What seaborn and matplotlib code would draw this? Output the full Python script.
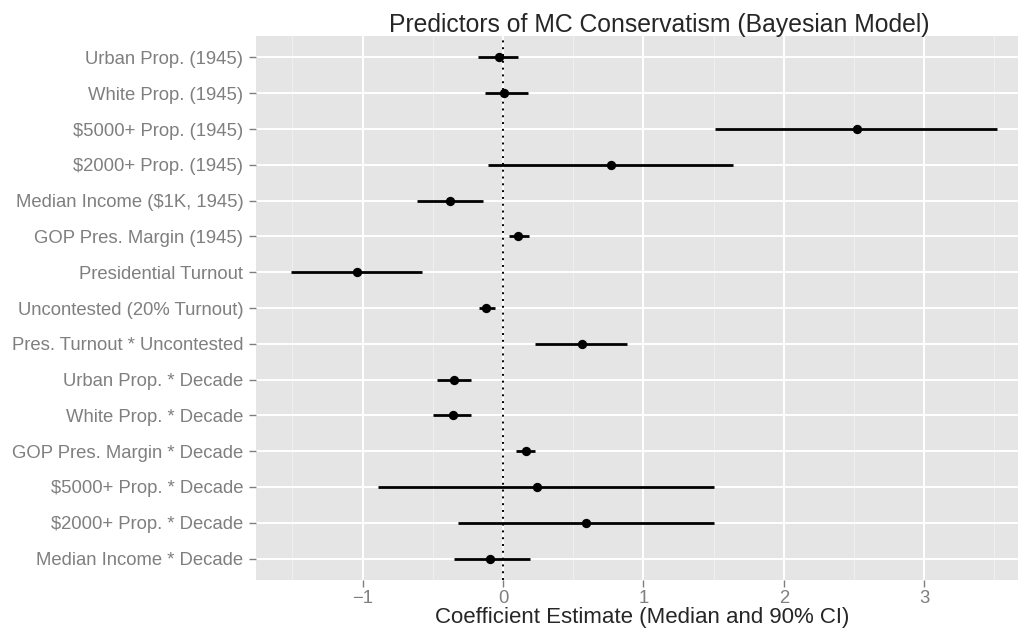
import numpy as np
import pandas as pd
import matplotlib
matplotlib.use('Agg')
import matplotlib.pyplot as plt
from matplotlib.ticker import MultipleLocator
import seaborn as sns

# termini del modello (ordine dall'alto verso il basso)
termini = ['Urban Prop. (1945)', 'White Prop. (1945)', '$5000+ Prop. (1945)',
           '$2000+ Prop. (1945)', 'Median Income ($1K, 1945)', 'GOP Pres. Margin (1945)',
           'Presidential Turnout', 'Uncontested (20% Turnout)', 'Pres. Turnout * Uncontested',
           'Urban Prop. * Decade', 'White Prop. * Decade', 'GOP Pres. Margin * Decade',
           '$5000+ Prop. * Decade', '$2000+ Prop. * Decade', 'Median Income * Decade']
# mediana e intervallo di credibilita' al 90%
mediana = [-0.03, 0.01, 2.52, 0.77, -0.38, 0.11, -1.04, -0.12, 0.56,
           -0.35, -0.36, 0.165, 0.245, 0.59, -0.09]
inferiore = [-0.18, -0.13, 1.51, -0.11, -0.61, 0.04, -1.51, -0.17, 0.23,
             -0.47, -0.50, 0.095, -0.89, -0.32, -0.35]
superiore = [0.105, 0.18, 3.52, 1.64, -0.14, 0.185, -0.58, -0.06, 0.88,
             -0.23, -0.225, 0.23, 1.50, 1.50, 0.19]

df = pd.DataFrame({'termine': termini, 'mediana': mediana,
                   'inf': inferiore, 'sup': superiore})

sns.set_theme(style='darkgrid', rc={'axes.facecolor': '#E5E5E5', 'grid.color': 'white'})
plt.rcParams['font.family'] = ['Liberation Sans', 'DejaVu Sans']

fig, ax = plt.subplots(figsize=(10.18, 6.35), dpi=100)
# il pannello prosegue oltre il bordo destro (immagine originale tagliata)
fig.subplots_adjust(left=256/1018, right=1028/1018, top=1-36/635, bottom=1-580/635)

# intervalli e mediane
ax.hlines(y=df['termine'], xmin=df['inf'], xmax=df['sup'], color='black', linewidth=2, zorder=3)
sns.scatterplot(data=df, x='mediana', y='termine', color='black', s=45, edgecolor='black',
                linewidth=0, ax=ax, zorder=4)
ax.axvline(0, color='black', linestyle=(0, (1, 2.5)), linewidth=1.4, zorder=2)

ax.set_ylim(len(termini) - 0.4, -0.6)
ax.set_xlim(-1.76, 3.74)
ax.xaxis.set_major_locator(MultipleLocator(1))
ax.xaxis.set_minor_locator(MultipleLocator(0.5))
ax.grid(which='major', color='white', linewidth=1.4)
ax.grid(which='minor', axis='x', color='#F2F2F2', linewidth=0.6)
ax.set_xticks([-1, 0, 1, 2, 3])
ax.set_xticklabels(['\u22121', '0', '1', '2', '3'])
ax.tick_params(axis='both', which='major', length=5, width=1, color='#7F7F7F',
               labelcolor='#7F7F7F', labelsize=13.3, pad=2, bottom=True, left=True)
ax.tick_params(axis='y', which='major', pad=4)
ax.tick_params(axis='x', which='minor', length=0)
for s in ax.spines.values():
    s.set_visible(False)

ax.set_title('Predictors of MC Conservatism (Bayesian Model)', fontsize=17.8, pad=3, x=0.522)
ax.set_xlabel('Coefficient Estimate (Median and 90% CI)', fontsize=16, labelpad=0)
ax.set_ylabel('')

fig.savefig('out.png', dpi=100)
